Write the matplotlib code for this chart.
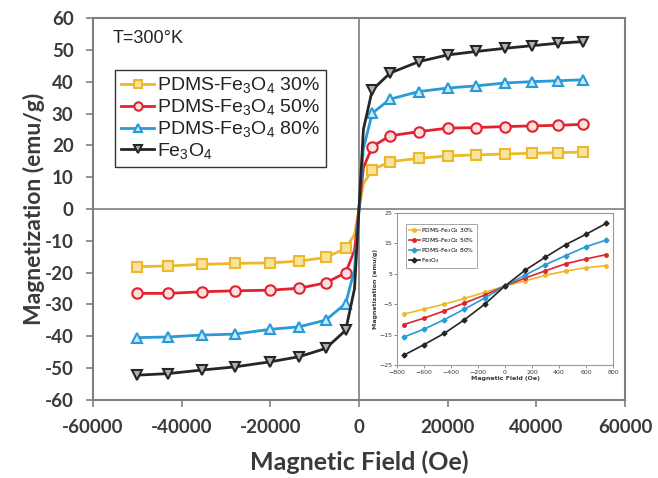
import matplotlib
matplotlib.use("Agg")
import matplotlib.pyplot as plt

plt.rcParams["mathtext.fontset"] = "custom"
plt.rcParams["mathtext.rm"] = "Liberation Sans"
plt.rcParams["mathtext.it"] = "Liberation Sans:italic"
plt.rcParams["mathtext.bf"] = "Liberation Sans:bold"

# Main hysteresis data (Oe, emu/g)
field_neg = [-50000, -43000, -35500, -28000, -20000, -13500, -7500, -3000]
field_pos = [3000, 7000, 13500, 20000, 26500, 33000, 39000, 45000, 50500]

m30_neg = [-18.1, -17.9, -17.4, -17.1, -16.9, -16.4, -15.2, -12.4]
m30_pos = [12.3, 14.9, 15.9, 16.7, 17.0, 17.3, 17.5, 17.7, 17.9]
m50_neg = [-26.5, -26.5, -26.0, -25.7, -25.5, -24.9, -23.2, -20.0]
m50_pos = [19.6, 23.0, 24.3, 25.4, 25.6, 25.9, 26.1, 26.3, 26.6]
m80_neg = [-40.4, -40.2, -39.6, -39.3, -37.8, -37.0, -34.9, -29.7]
m80_pos = [30.1, 34.5, 36.9, 38.0, 38.7, 39.6, 40.0, 40.3, 40.6]
mfe_neg = [-52.2, -51.7, -50.6, -49.6, -48.0, -46.4, -43.8, -38.1]
mfe_pos = [37.4, 42.7, 46.3, 48.4, 49.5, 50.5, 51.3, 52.1, 52.6]

# low-field points through the origin (no markers)
field_mid = [-1000, 0, 1000]
m30_mid = [-8.0, 0.0, 8.0]
m50_mid = [-13.0, 0.0, 13.0]
m80_mid = [-19.0, 0.0, 19.0]
mfe_mid = [-25.0, 0.0, 25.0]

# Inset: low-field region
inset_field = [-750, -600, -450, -300, -150, 0, 150, 300, 450, 600, 750]
in30 = [-8.3, -6.6, -5.0, -3.1, -1.1, 1.0, 2.7, 4.5, 5.9, 7.0, 7.7]
in50 = [-11.7, -9.6, -7.2, -4.6, -2.0, 1.0, 3.6, 6.0, 8.3, 9.9, 11.3]
in80 = [-15.8, -13.2, -10.1, -6.6, -3.0, 1.0, 4.6, 8.0, 11.0, 13.9, 16.1]
infe = [-21.8, -18.3, -14.6, -10.1, -5.0, 1.0, 6.2, 10.5, 14.6, 18.0, 21.6]

labels = ["PDMS-Fe$_3$O$_4$ 30%", "PDMS-Fe$_3$O$_4$ 50%",
          "PDMS-Fe$_3$O$_4$ 80%", "Fe$_3$O$_4$"]
colors = ["#EDB92A", "#E0232E", "#2A9AD6", "#262626"]
fills = ["#F6E3A0", "#FBE0E1", "#CBE8F7", "#B0B0B0"]
markers = ["s", "o", "^", "v"]
inset_markers = ["o", "o", "D", "D"]

series = [
    (m30_neg, m30_mid, m30_pos),
    (m50_neg, m50_mid, m50_pos),
    (m80_neg, m80_mid, m80_pos),
    (mfe_neg, mfe_mid, mfe_pos),
]
inset_series = [in30, in50, in80, infe]

grey = "#7F7F7F"
text_col = "#3A3A3A"

fig = plt.figure(figsize=(6.58, 4.78), dpi=100)
ax = fig.add_axes([0.1413, 0.1632, 0.8085, 0.7991])

ax.axhline(0, color=grey, lw=1.2, zorder=1)
ax.axvline(0, color=grey, lw=1.2, zorder=1)

n_neg = len(field_neg)
n_mid = len(field_mid)
mark_idx = list(range(n_neg)) + list(range(n_neg + n_mid, n_neg + n_mid + len(field_pos)))
xs = field_neg + field_mid + field_pos
for (neg, mid, pos), lab, c, f, mk in zip(series, labels, colors, fills, markers):
    ax.plot(xs, neg + mid + pos, color=c, lw=2, marker=mk, markersize=7.5,
            markerfacecolor=f, markeredgecolor=c, markeredgewidth=1.5,
            markevery=mark_idx, label=lab, zorder=3)

ax.set_xlim(-60000, 60000)
ax.set_ylim(-60, 60)
ax.set_xticks(range(-60000, 60001, 20000))
ax.set_yticks(range(-60, 61, 10))
tick_font = dict(family="Lato", weight="bold", size=13.5)
ax.set_xticklabels([str(v) for v in range(-60000, 60001, 20000)], **tick_font, color=text_col)
ax.set_yticklabels([str(v) for v in range(-60, 61, 10)], **tick_font, color=text_col)
ax.tick_params(direction="out", length=5, width=1.2, color=grey, pad=9)
for s in ax.spines.values():
    s.set_color(grey)
    s.set_linewidth(1.5)

ax.set_xlabel("Magnetic Field (Oe)", family="Lato", weight="bold", size=18,
              color=text_col, labelpad=10)
ax.set_ylabel("Magnetization (emu/g)", family="Lato", weight="bold", size=16.5,
              color=text_col, labelpad=0)

ax.text(-55500, 53.5, "T=300°K", family="Liberation Sans", size=13, color="#222222",
        va="center")

leg = ax.legend(loc="upper left", bbox_to_anchor=(0.042, 0.865),
                prop=dict(family="Liberation Sans", size=14),
                handlelength=1.7, handletextpad=0.15, labelspacing=0.1,
                borderpad=0.3, borderaxespad=0, fancybox=False, framealpha=1,
                markerscale=0.8)
leg.get_frame().set_edgecolor("#333333")
leg.get_frame().set_linewidth(1.0)
for t in leg.get_texts():
    t.set_color("#222222")

# inset: low-field magnetization
ins = fig.add_axes([0.6033, 0.2364, 0.3283, 0.318])
for y, lab, c, mk in zip(inset_series, labels, colors, inset_markers):
    ins.plot(inset_field, y, color=c, lw=1.2, marker=mk, markersize=2.5,
             markeredgecolor=c, label=lab)
ins.set_xlim(-800, 800)
ins.set_ylim(-25, 25)
ins.set_xticks(range(-800, 801, 200))
ins.set_yticks(range(-25, 26, 10))
ins.tick_params(labelsize=4.5, length=2, width=0.6, color=grey, pad=1.5,
                labelcolor=text_col)
for s in ins.spines.values():
    s.set_color("#999999")
    s.set_linewidth(0.8)
ins.set_xlabel("Magnetic Field (Oe)", size=4.5, weight="bold", color=text_col, labelpad=1)
ins.set_ylabel("Magnetization (emu/g)", size=4.5, weight="bold", color=text_col, labelpad=1)
ileg = ins.legend(loc="upper left", bbox_to_anchor=(0.03, 0.95),
                  prop=dict(size=4.3), handlelength=1.8, handletextpad=0.3,
                  labelspacing=0.2, borderpad=0.4, fancybox=False, framealpha=1)
ileg.get_frame().set_edgecolor("#999999")
ileg.get_frame().set_linewidth(0.6)

fig.savefig("out.png", dpi=100)
